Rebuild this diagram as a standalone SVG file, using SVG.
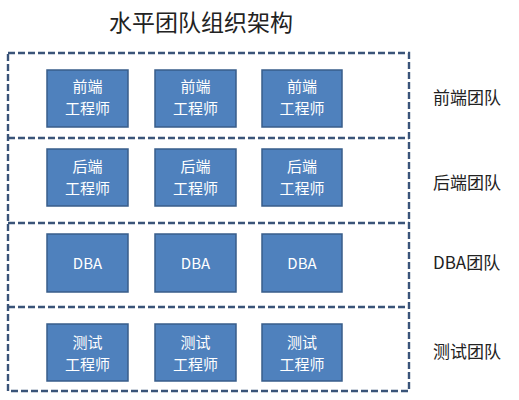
<svg xmlns="http://www.w3.org/2000/svg" width="519" height="400" viewBox="0 0 519 400">
<style>
.frame{fill:none;stroke:#3a5479;stroke-width:2.4;stroke-dasharray:7 3}
.box{fill:#4f81bd;stroke:#385d8a;stroke-width:1.5}
.bt{fill:#ffffff;font-family:"Noto Sans CJK SC","Noto Sans",sans-serif;font-size:15px;text-anchor:middle}
.lb{fill:#222222;font-family:"Noto Sans CJK SC","Noto Sans",sans-serif;font-size:17px}
.title{fill:#222222;font-family:"Noto Sans CJK SC",sans-serif;font-size:23px;text-anchor:middle}
</style>
<rect width="519" height="400" fill="#ffffff"/>
<text class="title" x="201" y="31">水平团队组织架构</text>
<g id="connectors">
<rect class="frame" x="8" y="53" width="401" height="338"/>
<line class="frame" x1="8" y1="138" x2="409" y2="138"/>
<line class="frame" x1="8" y1="223" x2="409" y2="223"/>
<line class="frame" x1="8" y1="307" x2="409" y2="307"/>
</g>
<g id="fe1"><rect class="box" x="47" y="70" width="81" height="57"/><text class="bt" x="87.5" y="92">前端</text><text class="bt" x="87.5" y="114">工程师</text></g>
<g id="fe2"><rect class="box" x="155" y="70" width="81" height="57"/><text class="bt" x="195.5" y="92">前端</text><text class="bt" x="195.5" y="114">工程师</text></g>
<g id="fe3"><rect class="box" x="262" y="70" width="80" height="57"/><text class="bt" x="302" y="92">前端</text><text class="bt" x="302" y="114">工程师</text></g>
<g id="be1"><rect class="box" x="47" y="149" width="81" height="57"/><text class="bt" x="87.5" y="172">后端</text><text class="bt" x="87.5" y="194">工程师</text></g>
<g id="be2"><rect class="box" x="155" y="149" width="81" height="57"/><text class="bt" x="195.5" y="172">后端</text><text class="bt" x="195.5" y="194">工程师</text></g>
<g id="be3"><rect class="box" x="262" y="149" width="80" height="57"/><text class="bt" x="302" y="172">后端</text><text class="bt" x="302" y="194">工程师</text></g>
<g id="dba1"><rect class="box" x="47" y="234" width="81" height="58"/><text class="bt" x="87.5" y="268.5">DBA</text></g>
<g id="dba2"><rect class="box" x="155" y="234" width="81" height="58"/><text class="bt" x="195.5" y="268.5">DBA</text></g>
<g id="dba3"><rect class="box" x="262" y="234" width="80" height="58"/><text class="bt" x="302" y="268.5">DBA</text></g>
<g id="qa1"><rect class="box" x="47" y="324" width="81" height="57"/><text class="bt" x="87.5" y="347.5">测试</text><text class="bt" x="87.5" y="369.5">工程师</text></g>
<g id="qa2"><rect class="box" x="155" y="324" width="81" height="57"/><text class="bt" x="195.5" y="347.5">测试</text><text class="bt" x="195.5" y="369.5">工程师</text></g>
<g id="qa3"><rect class="box" x="262" y="324" width="80" height="57"/><text class="bt" x="302" y="347.5">测试</text><text class="bt" x="302" y="369.5">工程师</text></g>
<g id="labels">
<text class="lb" x="433" y="103.5">前端团队</text>
<text class="lb" x="433" y="188.5">后端团队</text>
<text class="lb" x="433" y="268.5">DBA团队</text>
<text class="lb" x="433" y="357.5">测试团队</text>
</g>
</svg>
